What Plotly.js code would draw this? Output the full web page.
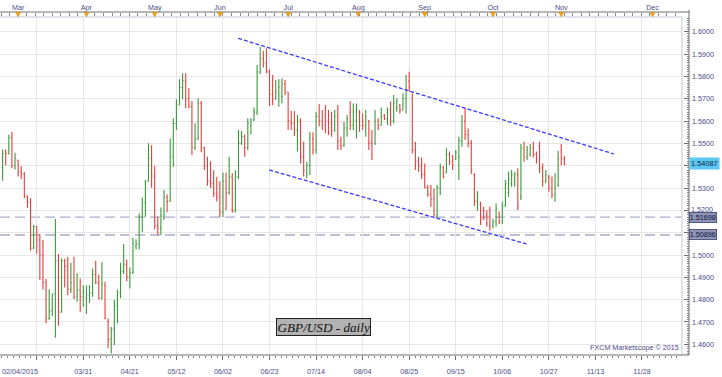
<!DOCTYPE html>
<html><head><meta charset="utf-8">
<script src="https://cdn.plot.ly/plotly-3.0.1.min.js"></script>
<style>html,body{margin:0;padding:0;background:#fff;}#chart{width:722px;height:377px;}</style>
</head><body><div id="chart"></div>
<script>
// ---- data (GBP/USD daily) ----
const open = [1.5392,1.5465,1.5455,1.5525,1.5401,1.5425,1.5372,1.5363,1.5261,1.5237,1.5031,1.5127,1.5067,1.5000,1.4877,1.4716,1.4750,1.4825,1.4974,1.4744,1.4974,1.4950,1.4846,1.4876,1.4813,1.4843,1.4813,1.4810,1.4821,1.4830,1.4913,1.4875,1.4805,1.4862,1.4704,1.4622,1.4667,1.4773,1.4831,1.4928,1.4958,1.4903,1.4921,1.5040,1.5049,1.5171,1.5234,1.5330,1.5433,1.5354,1.5131,1.5119,1.5174,1.5258,1.5240,1.5440,1.5589,1.5672,1.5750,1.5780,1.5700,1.5665,1.5480,1.5520,1.5680,1.5480,1.5400,1.5330,1.5320,1.5275,1.5260,1.5190,1.5330,1.5280,1.5350,1.5200,1.5350,1.5500,1.5530,1.5480,1.5580,1.5605,1.5640,1.5820,1.5880,1.5860,1.5820,1.5720,1.5700,1.5720,1.5710,1.5765,1.5730,1.5600,1.5590,1.5560,1.5600,1.5440,1.5370,1.5400,1.5520,1.5470,1.5620,1.5600,1.5620,1.5600,1.5590,1.5560,1.5620,1.5510,1.5490,1.5570,1.5640,1.5580,1.5600,1.5640,1.5600,1.5580,1.5600,1.5500,1.5500,1.5600,1.5580,1.5625,1.5610,1.5650,1.5600,1.5660,1.5670,1.5650,1.5700,1.5780,1.5700,1.5470,1.5420,1.5400,1.5360,1.5303,1.5270,1.5250,1.5180,1.5300,1.5395,1.5370,1.5450,1.5420,1.5430,1.5440,1.5510,1.5600,1.5540,1.5500,1.5360,1.5240,1.5230,1.5200,1.5180,1.5200,1.5130,1.5150,1.5190,1.5150,1.5220,1.5280,1.5320,1.5330,1.5360,1.5260,1.5480,1.5440,1.5450,1.5480,1.5450,1.5490,1.5390,1.5330,1.5350,1.5300,1.5270,1.5310,1.5470,1.5430];
const high = [1.5473,1.5473,1.5539,1.5551,1.5458,1.5425,1.5398,1.5372,1.5268,1.5255,1.5134,1.5130,1.5094,1.5067,1.4892,1.4847,1.4827,1.5161,1.5004,1.4986,1.4983,1.4992,1.4965,1.4992,1.4918,1.4895,1.4865,1.4865,1.4865,1.4940,1.4974,1.4913,1.4967,1.4880,1.4716,1.4679,1.4798,1.4846,1.4965,1.5049,1.4980,1.4945,1.5076,1.5070,1.5186,1.5258,1.5336,1.5500,1.5492,1.5398,1.5171,1.5213,1.5291,1.5271,1.5522,1.5612,1.5697,1.5787,1.5814,1.5814,1.5747,1.5690,1.5590,1.5702,1.5690,1.5485,1.5440,1.5420,1.5380,1.5350,1.5330,1.5370,1.5370,1.5440,1.5366,1.5380,1.5560,1.5555,1.5540,1.5612,1.5612,1.5660,1.5851,1.5933,1.5915,1.5926,1.5831,1.5806,1.5784,1.5787,1.5791,1.5784,1.5731,1.5646,1.5645,1.5627,1.5612,1.5507,1.5418,1.5552,1.5550,1.5642,1.5676,1.5649,1.5672,1.5649,1.5642,1.5649,1.5672,1.5530,1.5597,1.5627,1.5690,1.5679,1.5679,1.5649,1.5634,1.5649,1.5605,1.5560,1.5649,1.5612,1.5660,1.5631,1.5661,1.5687,1.5717,1.5702,1.5676,1.5724,1.5806,1.5821,1.5724,1.5507,1.5440,1.5437,1.5410,1.5313,1.5313,1.5298,1.5313,1.5410,1.5399,1.5478,1.5463,1.5448,1.5470,1.5530,1.5627,1.5657,1.5567,1.5515,1.5366,1.5286,1.5239,1.5216,1.5201,1.5216,1.5164,1.5231,1.5194,1.5239,1.5336,1.5373,1.5381,1.5373,1.5388,1.5497,1.5507,1.5488,1.5497,1.5507,1.5463,1.5507,1.5410,1.5381,1.5358,1.5351,1.5366,1.5467,1.5497,1.5443];
const low = [1.5333,1.5401,1.5450,1.5389,1.5383,1.5351,1.5340,1.5254,1.5212,1.5019,1.5027,1.5007,1.4888,1.4846,1.4694,1.4710,1.4727,1.4629,1.4683,1.4743,1.4855,1.4821,1.4830,1.4803,1.4791,1.4746,1.4768,1.4736,1.4786,1.4813,1.4870,1.4801,1.4801,1.4712,1.4582,1.4559,1.4597,1.4694,1.4806,1.4915,1.4883,1.4850,1.4915,1.5025,1.5025,1.5104,1.5171,1.5328,1.5301,1.5115,1.5089,1.5089,1.5157,1.5191,1.5240,1.5395,1.5560,1.5672,1.5697,1.5657,1.5657,1.5448,1.5470,1.5515,1.5460,1.5380,1.5310,1.5300,1.5260,1.5240,1.5170,1.5170,1.5200,1.5270,1.5189,1.5190,1.5340,1.5493,1.5440,1.5470,1.5540,1.5600,1.5627,1.5811,1.5840,1.5814,1.5667,1.5672,1.5695,1.5664,1.5680,1.5717,1.5560,1.5560,1.5533,1.5463,1.5410,1.5351,1.5343,1.5358,1.5450,1.5455,1.5575,1.5560,1.5545,1.5537,1.5530,1.5552,1.5470,1.5470,1.5485,1.5530,1.5560,1.5560,1.5522,1.5552,1.5560,1.5530,1.5470,1.5425,1.5493,1.5560,1.5580,1.5605,1.5582,1.5578,1.5590,1.5642,1.5634,1.5650,1.5634,1.5731,1.5455,1.5381,1.5373,1.5340,1.5298,1.5261,1.5216,1.5172,1.5168,1.5269,1.5343,1.5366,1.5403,1.5381,1.5425,1.5336,1.5485,1.5515,1.5482,1.5363,1.5219,1.5198,1.5134,1.5157,1.5127,1.5109,1.5119,1.5127,1.5139,1.5139,1.5216,1.5261,1.5306,1.5306,1.5201,1.5246,1.5418,1.5425,1.5440,1.5437,1.5410,1.5366,1.5306,1.5321,1.5283,1.5254,1.5239,1.5306,1.5402,1.5402];
const close = [1.5455,1.5455,1.5525,1.5401,1.5433,1.5372,1.5363,1.5261,1.5237,1.5031,1.5127,1.5067,1.5000,1.4877,1.4716,1.4750,1.4825,1.4974,1.4744,1.4974,1.4950,1.4846,1.4876,1.4813,1.4843,1.4813,1.4835,1.4821,1.4830,1.4913,1.4875,1.4805,1.4870,1.4716,1.4622,1.4667,1.4773,1.4831,1.4928,1.4958,1.4903,1.4921,1.5049,1.5049,1.5171,1.5234,1.5330,1.5433,1.5354,1.5131,1.5119,1.5174,1.5258,1.5240,1.5440,1.5589,1.5672,1.5750,1.5780,1.5700,1.5665,1.5480,1.5520,1.5680,1.5480,1.5400,1.5330,1.5320,1.5275,1.5260,1.5190,1.5330,1.5280,1.5350,1.5200,1.5350,1.5500,1.5530,1.5480,1.5590,1.5605,1.5640,1.5820,1.5880,1.5860,1.5820,1.5720,1.5700,1.5730,1.5750,1.5765,1.5730,1.5600,1.5590,1.5560,1.5600,1.5440,1.5380,1.5400,1.5520,1.5470,1.5620,1.5600,1.5580,1.5560,1.5570,1.5560,1.5620,1.5510,1.5490,1.5570,1.5610,1.5580,1.5640,1.5650,1.5580,1.5580,1.5620,1.5500,1.5450,1.5600,1.5580,1.5620,1.5610,1.5640,1.5600,1.5680,1.5690,1.5650,1.5700,1.5740,1.5750,1.5470,1.5420,1.5400,1.5360,1.5303,1.5270,1.5250,1.5180,1.5300,1.5390,1.5350,1.5450,1.5420,1.5400,1.5460,1.5510,1.5600,1.5540,1.5500,1.5380,1.5240,1.5270,1.5160,1.5170,1.5140,1.5130,1.5150,1.5210,1.5150,1.5220,1.5320,1.5340,1.5360,1.5360,1.5220,1.5480,1.5440,1.5470,1.5480,1.5450,1.5430,1.5390,1.5330,1.5360,1.5300,1.5270,1.5300,1.5430,1.5430,1.54087];

// x-axis: trading-day index; labels every 15 bars
const tickIdx = [11,26,41,56,71,86,101,116,131,146,161,176,191,206];
const tickLabels = ['','03/31','04/21','05/12','06/02','06/23','07/14','08/04','08/25','09/15','10/06','10/27','11/13','11/28'];
const firstLabel = '02/04/2015';
const monthIdx = [5,27,49,70,92,114.6,136,158,180,209.4];
const monthLabels = ['Mar','Apr','May','Jun','Jul','Aug','Sep','Oct','Nov','Dec'];
// price axis ticks (labels hidden where the reference covers them with price boxes)
const yTickVals = [1.46,1.47,1.48,1.49,1.50,1.51,1.52,1.53,1.54,1.55,1.56,1.57,1.58,1.59,1.60];
const yTickText = ['1.4600','1.4700','1.4800','1.4900','1.5000','','','1.5300','','1.5500','1.5600','1.5700','1.5800','1.5900','1.6000'];
const nudgedTick = 1.52, nudgedText = '1.5200';
// horizontal support levels
const levels = [1.51698, 1.50896];
// channel lines (bar index, price)
const channelUpperX = [75.9, 197.0];
const channelUpperY = [1.59704, 1.54523];
const channelLowerX = [85.9, 168.8];
const channelLowerY = [1.53807, 1.50493];

// ---- layout geometry ----
const W = 722, H = 377, mL = 0, mR = 33, mT = 12, mB = 22;
const plotW = W - mL - mR, plotH = H - mT - mB;
const xDomEnd = 682 / plotW;
const yDomEnd = (plotH - 5) / plotH;
const xRange = [-0.84, 218.9];
const yRange = [1.45522, 1.60658];
const labelColor = '#4b4b8b';
const axisColor = '#6e6e6e';
const fontFam = 'Liberation Sans, Arial, sans-serif';

const barIdx = open.map((_, i) => i);

const traces = [
  {
    type: 'ohlc', x: barIdx, open: open, high: high, low: low, close: close,
    increasing: {line: {color: '#3a9a3a', width: 1.1}},
    decreasing: {line: {color: '#e53f3c', width: 1.1}},
    tickwidth: 0.3, hoverinfo: 'skip', xaxis: 'x', yaxis: 'y', showlegend: false
  },
  {
    type: 'scatter', mode: 'lines', x: channelUpperX, y: channelUpperY,
    line: {color: '#3b3bff', width: 1.3, dash: '4px,2px'}, hoverinfo: 'skip', showlegend: false
  },
  {
    type: 'scatter', mode: 'lines', x: channelLowerX, y: channelLowerY,
    line: {color: '#3b3bff', width: 1.3, dash: '4px,2px'}, hoverinfo: 'skip', showlegend: false
  },
  {
    type: 'scatter', mode: 'markers', x: monthIdx, y: monthIdx.map(() => yRange[0] + 0.01),
    marker: {opacity: 0}, xaxis: 'x2', yaxis: 'y', hoverinfo: 'skip', showlegend: false
  }
];

const shapes = [];
levels.forEach(lv => shapes.push({
  type: 'line', xref: 'paper', yref: 'y', x0: 0, x1: xDomEnd, y0: lv, y1: lv,
  line: {color: '#a9adc9', width: 1.3, dash: '10px,5px'}, layer: 'below'
}));
shapes.push({type: 'line', xref: 'paper', yref: 'paper', x0: 0, x1: xDomEnd, y0: yDomEnd, y1: yDomEnd, line: {color: '#d6dae3', width: 1.5}});
shapes.push({type: 'line', xref: 'paper', yref: 'paper', x0: xDomEnd, x1: xDomEnd, y0: 0, y1: yDomEnd, line: {color: '#d6dae3', width: 1.5}});
shapes.push({type: 'line', xref: 'paper', yref: 'paper', x0: 0, x1: 1, y0: 1, y1: 1, line: {color: axisColor, width: 1}});
shapes.push({type: 'line', xref: 'paper', yref: 'paper', x0: 1, x1: 1, y0: 0, y1: 1.006, line: {color: axisColor, width: 1}});
shapes.push({type: 'line', xref: 'paper', yref: 'paper', x0: 0, x1: 1, y0: 0, y1: 0, line: {color: axisColor, width: 1}});
monthIdx.forEach(m => shapes.push({
  type: 'path', xref: 'x', yref: 'paper',
  path: `M ${m - 0.8} 0.999 L ${m + 0.8} 0.999 L ${m} ${yDomEnd + 0.001} Z`,
  fillcolor: '#f5a21c', line: {color: '#d98a0a', width: 0.6}
}));

const annFont = {family: fontFam, size: 7.2, color: labelColor};
const annotations = [
  {
    xref: 'paper', yref: 'y', x: 1, y: close[close.length - 1], xanchor: 'left', yanchor: 'middle',
    text: close[close.length - 1].toFixed(5), showarrow: false, bgcolor: '#5ac8f5', borderpad: 1,
    font: {family: fontFam, size: 7.4, color: '#1c1c3c'}
  },
  ...levels.map(lv => ({
    xref: 'paper', yref: 'y', x: 1, y: lv, xanchor: 'left', yanchor: 'middle',
    text: lv.toFixed(5), showarrow: false, bgcolor: '#8d94b6', bordercolor: '#3d4270', borderwidth: 0.8, borderpad: 0,
    font: {family: fontFam, size: 7.2, color: '#10103a'}
  })),
  {
    xref: 'paper', yref: 'y', x: 1, y: nudgedTick, xanchor: 'left', yanchor: 'bottom', xshift: 1, yshift: -4.5,
    text: nudgedText, showarrow: false, borderpad: 0, font: annFont
  },
  {
    xref: 'paper', yref: 'paper', x: 323.5 / plotW, y: (plotH - 314.5) / plotH, xanchor: 'center', yanchor: 'middle',
    text: 'GBP/USD - daily', showarrow: false, bgcolor: '#b2b2b2', bordercolor: '#222', borderwidth: 1, borderpad: 0.5,
    font: {family: 'Liberation Serif, Times New Roman, serif', size: 13.2, color: '#111', style: 'italic'}
  },
  {
    xref: 'paper', yref: 'paper', x: 681 / plotW, y: 0.003, xanchor: 'right', yanchor: 'bottom',
    text: 'FXCM Marketscope © 2015', showarrow: false, font: annFont
  },
  {
    xref: 'paper', yref: 'paper', x: 0, y: -16 / plotH, xanchor: 'left', yanchor: 'middle',
    text: firstLabel, showarrow: false, font: annFont
  }
];

const layout = {
  width: W, height: H,
  margin: {l: mL, r: mR, t: mT, b: mB, pad: 0},
  paper_bgcolor: '#ffffff', plot_bgcolor: '#ffffff',
  showlegend: false, hovermode: false,
  font: {family: fontFam, size: 7.2, color: labelColor},
  xaxis: {
    domain: [0, xDomEnd], range: xRange, type: 'linear', fixedrange: true,
    rangeslider: {visible: false},
    tickmode: 'array', tickvals: tickIdx, ticktext: tickLabels,
    ticks: 'outside', ticklen: 4, tickcolor: axisColor, tickwidth: 1,
    minor: {ticks: 'outside', ticklen: 2, dtick: 1.875, tick0: 11, tickcolor: '#8a8a8a', showgrid: false},
    showgrid: true, gridcolor: '#e7e7e7', gridwidth: 1, zeroline: false, showline: false,
    tickfont: {family: fontFam, size: 7.2, color: labelColor}, ticklabelstandoff: 5
  },
  xaxis2: {
    overlaying: 'x', side: 'top', anchor: 'free', position: 1,
    domain: [0, xDomEnd], range: xRange, type: 'linear', fixedrange: true,
    tickmode: 'array', tickvals: monthIdx, ticktext: monthLabels,
    ticks: 'inside', ticklen: 3, tickcolor: axisColor,
    minor: {ticks: 'inside', ticklen: 3, dtick: 2.75, tick0: 5, tickcolor: '#8a8a8a', showgrid: false},
    showgrid: false, zeroline: false, showline: false,
    tickfont: {family: fontFam, size: 7.2, color: labelColor}, ticklabelstandoff: 1
  },
  yaxis: {
    domain: [0, yDomEnd], range: yRange, fixedrange: true,
    side: 'right', anchor: 'free', position: 1,
    tickmode: 'array', tickvals: yTickVals, ticktext: yTickText,
    ticks: 'inside', ticklen: 5, tickcolor: axisColor,
    minor: {ticks: 'inside', ticklen: 2.5, dtick: 0.001, tick0: 1.46, tickcolor: '#8a8a8a', showgrid: false},
    showgrid: true, gridcolor: '#e7e7e7', gridwidth: 1, zeroline: false, showline: false,
    tickfont: {family: fontFam, size: 7.2, color: labelColor}, ticklabelstandoff: 2
  },
  shapes: shapes,
  annotations: annotations
};

Plotly.newPlot('chart', traces, layout, {displayModeBar: false, staticPlot: true});
</script>
</body></html>
